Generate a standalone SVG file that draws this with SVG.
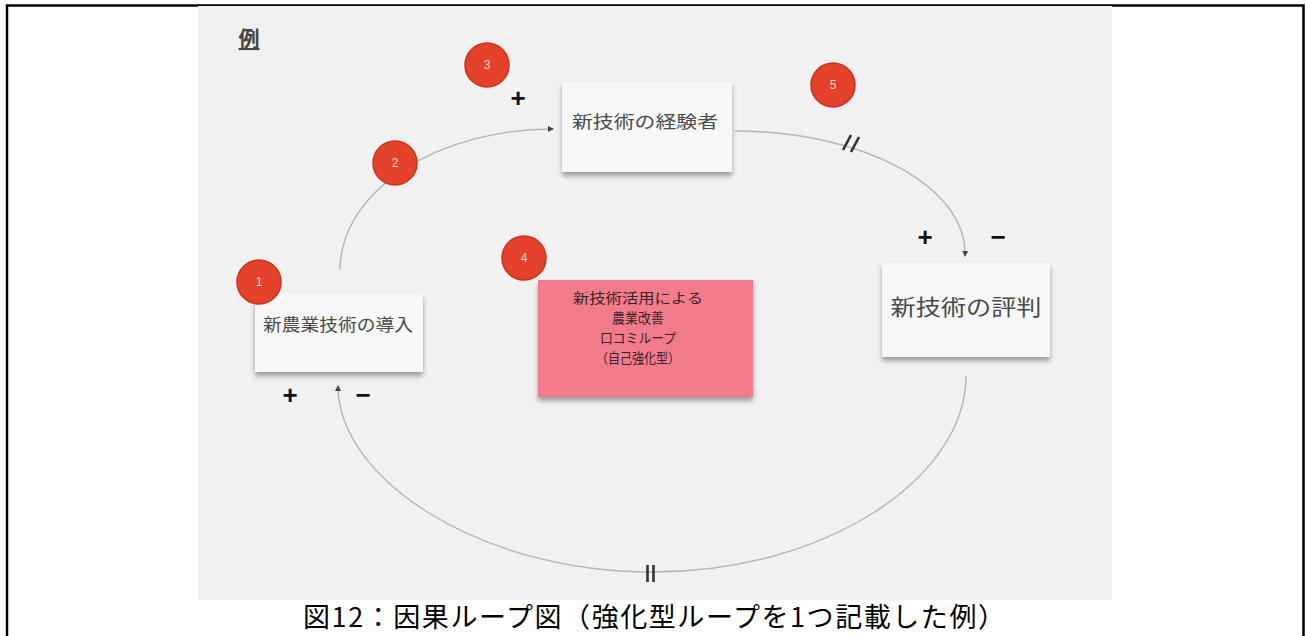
<svg xmlns="http://www.w3.org/2000/svg" width="1307" height="636" viewBox="0 0 1307 636">
<defs>
<style>
.cjk{font-family:"Noto Sans CJK JP","Noto Sans CJK SC",sans-serif;}
.lbl{fill:#4a4a4a;text-anchor:middle;}
.badge circle{fill:#e5422b;stroke:#c9341f;stroke-width:1.5;}
.badge text{fill:#ffd9cc;font-family:"Liberation Sans",sans-serif;font-size:12px;text-anchor:middle;}
.conn{fill:none;stroke:#b5b5b5;stroke-width:1.4;}
.sign{font-family:"Liberation Sans",sans-serif;font-weight:bold;font-size:26px;fill:#111;text-anchor:middle;}
.tick{stroke:#333;stroke-width:2.6;stroke-linecap:butt;}
.note{fill:#f7f7f8;}
</style>
<filter id="sh" x="-10%" y="-10%" width="120%" height="130%">
<feDropShadow dx="0" dy="4" stdDeviation="2.5" flood-color="#000" flood-opacity="0.35"/>
</filter>
<marker id="ah" markerWidth="6" markerHeight="6" refX="5" refY="3" orient="auto" markerUnits="userSpaceOnUse">
<path d="M0,0 L6,3 L0,6 z" fill="#444"/>
</marker>
</defs>
<rect x="0" y="0" width="1307" height="636" fill="#ffffff"/>
<path d="M7,640 V5.5 H1303.5 V640" fill="none" stroke="#000" stroke-width="2.5"/>
<rect x="198" y="6" width="914" height="594" fill="#f1f1f1"/>
<text x="249" y="46" class="cjk" font-size="21" font-weight="bold" fill="#444" text-anchor="middle" text-decoration="underline">例</text>

<g id="connectors">
<path class="conn" d="M340,270 A213,141 0 0 1 553,129" marker-end="url(#ah)"/>
<path class="conn" d="M735,131 A230,122 0 0 1 965,256" marker-end="url(#ah)"/>
<path class="conn" d="M966,376 C966,478 826,572 652,572 C478,572 338,478 338,386" marker-end="url(#ah)"/>
<line class="tick" x1="843" y1="150" x2="851" y2="135"/>
<line class="tick" x1="851" y1="152" x2="859" y2="137"/>
<line class="tick" x1="647.5" y1="565" x2="647.5" y2="582"/>
<line class="tick" x1="653.5" y1="565" x2="653.5" y2="582"/>
<text class="sign" x="518" y="107">+</text>
<text class="sign" x="925" y="246">+</text>
<text class="sign" x="998" y="246">−</text>
<text class="sign" x="290" y="404">+</text>
<text class="sign" x="363" y="404">−</text>
</g>

<g id="node1">
<rect class="note" x="255" y="293" width="168" height="79" filter="url(#sh)"/>
<text class="cjk lbl" x="338" y="331" font-size="17" textLength="150" lengthAdjust="spacingAndGlyphs">新農業技術の導入</text>
</g>
<g id="node2">
<rect class="note" x="562" y="82" width="170" height="90" filter="url(#sh)"/>
<text class="cjk lbl" x="645" y="128" font-size="17" textLength="146" lengthAdjust="spacingAndGlyphs">新技術の経験者</text>
</g>
<g id="node3">
<rect class="note" x="882" y="263" width="168" height="94" filter="url(#sh)"/>
<text class="cjk lbl" x="966" y="315" font-size="22" textLength="151" lengthAdjust="spacingAndGlyphs">新技術の評判</text>
</g>
<g id="node4">
<rect x="538" y="280" width="215" height="117" fill="#f27b8c" filter="url(#sh)"/>
<g class="cjk" fill="#3a2228" text-anchor="middle" font-size="13.5" lengthAdjust="spacingAndGlyphs">
<text x="638" y="303" textLength="130" lengthAdjust="spacingAndGlyphs">新技術活用による</text>
<text x="638" y="323" textLength="52" lengthAdjust="spacingAndGlyphs">農業改善</text>
<text x="638" y="343" textLength="76" lengthAdjust="spacingAndGlyphs">口コミループ</text>
<text x="638" y="363" textLength="84" lengthAdjust="spacingAndGlyphs">（自己強化型）</text>
</g>
</g>

<g id="badge1" class="badge"><circle cx="259" cy="282" r="22"/><text x="259" y="286">1</text></g>
<g id="badge2" class="badge"><circle cx="395" cy="163" r="22"/><text x="395" y="167">2</text></g>
<g id="badge3" class="badge"><circle cx="487" cy="65" r="22"/><text x="487" y="69">3</text></g>
<g id="badge4" class="badge"><circle cx="524" cy="258" r="22"/><text x="524" y="262">4</text></g>
<g id="badge5" class="badge"><circle cx="833" cy="85" r="22"/><text x="833" y="89">5</text></g>

<text class="cjk" x="654" y="627" font-size="27" fill="#000" text-anchor="middle" textLength="702" lengthAdjust="spacing">図12：因果ループ図（強化型ループを1つ記載した例）</text>
</svg>
